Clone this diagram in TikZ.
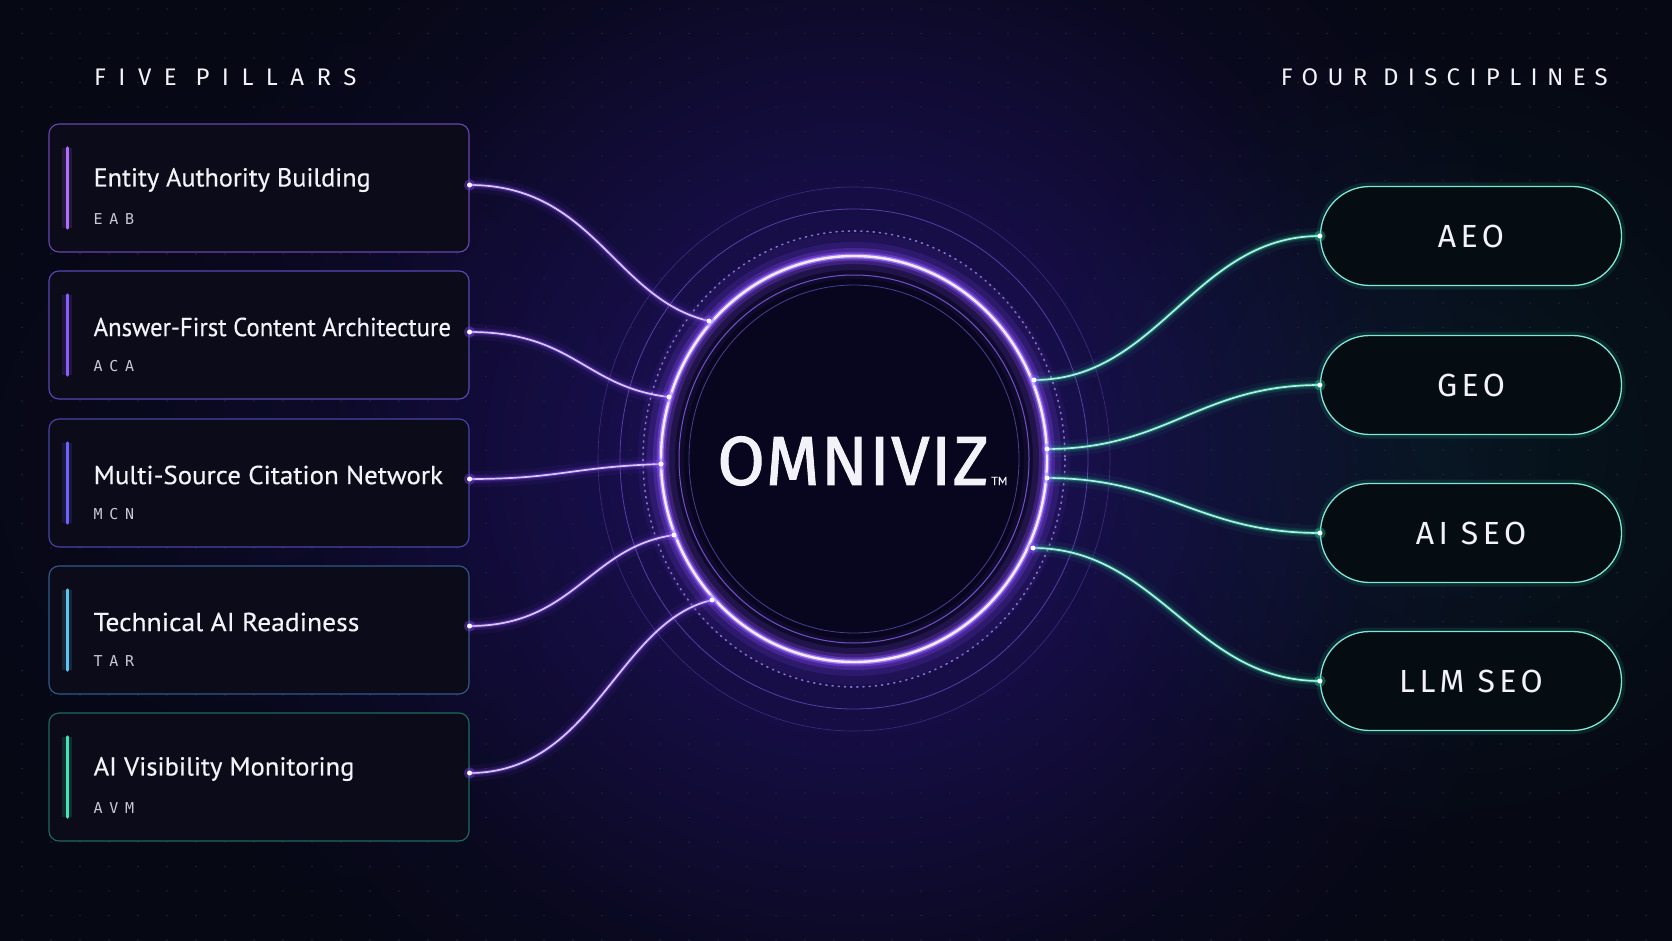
\documentclass[tikz,border=0pt]{standalone}
\usepackage{fontspec}
\setmainfont{PT Sans}
\newfontfamily\titlef[FakeBold=0.4]{PT Sans}
\newfontfamily\monof[LetterSpace=45]{DejaVu Sans Mono}
\newfontfamily\headf[LetterSpace=52]{Fira Sans}
\newfontfamily\headg[LetterSpace=39]{Fira Sans}
\newfontfamily\pillf[LetterSpace=14]{Fira Sans}
\newfontfamily\logof[LetterSpace=2,FakeBold=1.4]{Fira Sans}
\usetikzlibrary{calc,fadings}
\definecolor{bg}{HTML}{060813}
\definecolor{glowP}{HTML}{3A1CB0}
\definecolor{glowT}{HTML}{0E6E5C}
\definecolor{lineP}{HTML}{D8C8FF}
\definecolor{lineT}{HTML}{A6F5DC}
\definecolor{haloP}{HTML}{8A4DFF}
\definecolor{haloT}{HTML}{2FD8A8}
\definecolor{ringcore}{HTML}{F2ECFF}
\definecolor{ringthin}{HTML}{8C64F0}
\definecolor{boxfill}{HTML}{0B0B19}
\definecolor{pillfill}{HTML}{050D13}
\definecolor{pillline}{HTML}{7FE8D0}
\definecolor{dotc}{HTML}{21233A}
\definecolor{innA}{HTML}{07061E}
\definecolor{innB}{HTML}{33208F}
\definecolor{brA}{HTML}{6A45B0}\definecolor{barA}{HTML}{B26CFF}
\definecolor{brB}{HTML}{5A48B5}\definecolor{barB}{HTML}{8D5CFF}
\definecolor{brC}{HTML}{4A44A8}\definecolor{barC}{HTML}{6E62FF}
\definecolor{brD}{HTML}{33588A}\definecolor{barD}{HTML}{5CC6F2}
\definecolor{brE}{HTML}{1F6A5E}\definecolor{barE}{HTML}{3FE6B8}
\definecolor{txt}{HTML}{F3F2F8}
\definecolor{subt}{HTML}{C9C9D4}
\tikzfading[name=softglow, inner color=transparent!0, outer color=transparent!100]
\pgfdeclareradialshading{ringin}{\pgfpoint{0bp}{0bp}}{color(0bp)=(innA); color(36bp)=(innA); color(50bp)=(innB)}
\tikzset{
  pillar/.style={draw=#1, line width=1.1, rounded corners=10, fill=boxfill,
    minimum width=420, minimum height=128, inner sep=0},
  accent/.style={draw=#1, line width=3.5, line cap=round,
    preaction={draw=#1, line width=10, opacity=.15}},
  titletext/.style={anchor=west, text=txt, font=\titlef\fontsize{26}{30}\selectfont, inner sep=0},
  subtext/.style={anchor=west, text=subt, font=\monof\fontsize{15}{18}\selectfont, inner sep=0},
  headtext/.style={text=txt, font=\fontsize{24}{28}\selectfont, inner sep=0},
  pill/.style={draw=pillline, line width=1.3, fill=pillfill, rounded corners=49,
    minimum width=301, minimum height=99, inner sep=0, text=txt,
    font=\pillf\fontsize{32}{36}\selectfont,
    preaction={draw=haloT, line width=8, opacity=.12}},
  pline/.style={draw=lineP, line width=1.7,
    preaction={draw=haloP, line width=16, opacity=.06},
    preaction={draw=haloP, line width=8, opacity=.14},
    preaction={draw=haloP, line width=4, opacity=.35}},
  tline/.style={draw=lineT, line width=1.7,
    preaction={draw=haloT, line width=16, opacity=.05},
    preaction={draw=haloT, line width=8, opacity=.12},
    preaction={draw=haloT, line width=4, opacity=.3}},
  enddotP/.style={fill=white, circle, inner sep=0, minimum size=5,
    preaction={fill=haloP, opacity=.35, draw=haloP, line width=6}},
  enddotT/.style={fill=white, circle, inner sep=0, minimum size=5,
    preaction={fill=haloT, opacity=.35, draw=haloT, line width=6}},
}
\begin{document}
\begin{tikzpicture}[x=1pt,y=-1pt]
\useasboundingbox (0,0) rectangle (1672,941);
\fill[bg] (0,0) rectangle (1672,941);
% background glows
\fill[glowP, path fading=softglow, opacity=.30] (854,459) circle (720);
\fill[glowP, path fading=softglow, opacity=.30] (854,459) circle (540);
\fill[glowT, path fading=softglow, opacity=.14] (1450,440) circle (420);
\fill[glowP, path fading=softglow, opacity=.08] (260,460) circle (460);
% dot grid
\foreach \i in {0,...,57}{
  \foreach \j in {0,...,38}{
    \fill[dotc] (22+29*\i, 9+24.5*\j) circle (0.9);
  }
}
% outer rings
\draw[ringthin, line width=0.6, opacity=.35] (854,459) ellipse (256 and 272);
\draw[ringthin, line width=0.8, opacity=.55] (854,459) ellipse (234 and 250);
\draw[ringthin!70!white, line width=1.6, dash pattern=on 1.2pt off 5pt, line cap=round, opacity=.75] (854,459) ellipse (211 and 228);
% inner fill of ring
\shade[shading=ringin] (854,459) ellipse (193 and 203);
\draw[ringthin, line width=1, opacity=.8] (854,459) ellipse (175 and 184);
\draw[ringthin, line width=0.8, opacity=.55] (854,459) ellipse (165 and 174);
% main glowing ring
\draw[haloP, line width=46, opacity=.07] (854,459) ellipse (193 and 203);
\draw[haloP, line width=28, opacity=.14] (854,459) ellipse (193 and 203);
\draw[haloP, line width=16, opacity=.25] (854,459) ellipse (193 and 203);
\draw[haloP, line width=9, opacity=.45] (854,459) ellipse (193 and 203);
\draw[haloP!60!white, line width=5, opacity=.7] (854,459) ellipse (193 and 203);
\draw[ringcore, line width=2.4] (854,459) ellipse (193 and 203);
% ring anchor coordinates
\coordinate (L1) at (709,321);
\coordinate (L2) at (669,397);
\coordinate (L3) at (661,464);
\coordinate (L4) at (674,535);
\coordinate (L5) at (712,600);
\coordinate (R1) at (1034,380);
\coordinate (R2) at (1047,449);
\coordinate (R3) at (1047,478);
\coordinate (R4) at (1033,548);
% logo
\node[text=txt, font=\logof\fontsize{69}{74}\selectfont, inner sep=0] (logo) at (853,461) {OMNIVIZ};
\node[text=txt, font=\titlef\fontsize{12}{12}\selectfont, inner sep=0, anchor=west] (tm) at (991,481) {TM};
% headers
\node[headtext, anchor=west] (h1) at (94,77) {\headf FIVE PILLARS};
\node[headtext, anchor=east] (h2) at (1608,77) {\headg FOUR DISCIPLINES};
% pillar boxes
\foreach \n/\y/\br/\bar/\t/\s/\f in {
  1/188/brA/barA/Entity Authority Building/EAB/1.009,
  2/335/brB/barB/Answer-First Content Architecture/ACA/0.952,
  3/483/brC/barC/Multi-Source Citation Network/MCN/1.036,
  4/630/brD/barD/Technical AI Readiness/TAR/1.06,
  5/777/brE/barE/AI Visibility Monitoring/AVM/1.023}{
  \node[pillar=\br] (b\n) at (259,\y) {};
  \draw[accent=\bar] ($(b\n.west)+(19,-40)$) -- ($(b\n.west)+(19,40)$);
  \node[titletext] (t\n) at ($(b\n.west)+(45,-8)$) {\scalebox{\f}[1]{\t}};
  \node[subtext] (s\n) at ($(b\n.west)+(45,31)$) {\s};
}
% pills
\node[pill] (p1) at (1471,236) {AEO};
\node[pill] (p2) at (1471,385) {GEO};
\node[pill] (p3) at (1471,533) {AI SEO};
\node[pill] (p4) at (1471,681) {LLM SEO};
% left connectors
\coordinate (e1) at ([yshift=3]b1.east);
\coordinate (e2) at ([yshift=3]b2.east);
\coordinate (e3) at ([yshift=4]b3.east);
\coordinate (e4) at ([yshift=4]b4.east);
\coordinate (e5) at ([yshift=4]b5.east);
\draw[pline] (e1) .. controls +(125,0) and +(-95,-22) .. (L1);
\draw[pline] (e2) .. controls +(105,0) and +(-85,-10) .. (L2);
\draw[pline] (e3) .. controls +(90,0) and +(-90,3) .. (L3);
\draw[pline] (e4) .. controls +(105,0) and +(-85,12) .. (L4);
\draw[pline] (e5) .. controls +(125,0) and +(-95,22) .. (L5);
% right connectors
\draw[tline] (R1) .. controls +(125,0) and +(-125,0) .. (p1.west);
\draw[tline] (R2) .. controls +(120,0) and +(-120,0) .. (p2.west);
\draw[tline] (R3) .. controls +(120,0) and +(-120,0) .. (p3.west);
\draw[tline] (R4) .. controls +(125,0) and +(-125,0) .. (p4.west);
% end dots
\foreach \c in {e1,e2,e3,e4,e5,L1,L2,L3,L4,L5,R1,R2,R3,R4}{
  \node[enddotP] at (\c) {};
}
\foreach \c in {p1,p2,p3,p4}{
  \node[enddotT] at (\c.west) {};
}
\end{tikzpicture}
\end{document}
